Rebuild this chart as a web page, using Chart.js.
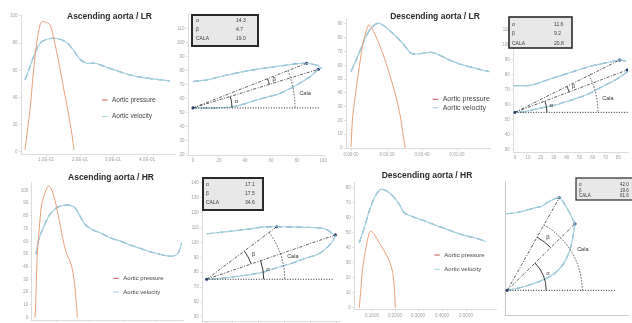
<!DOCTYPE html>
<html>
<head>
<meta charset="utf-8">
<title>Aortic pressure and velocity loops</title>
<script src="https://cdn.jsdelivr.net/npm/chart.js"></script>
<style>
  html, body { margin: 0; padding: 0; background: #fff; }
  body { position: relative; width: 632px; height: 323px; overflow: hidden; }
  canvas { position: absolute; }
</style>
</head>
<body>
<script>
// ---------- Ascending aorta / LR ----------
const ascLR_pT = [4, 9, 12.3, 15.7, 19, 21, 24, 29, 32.3, 37.3, 42.3, 47.3, 50.7, 53];
const ascLR_p = [1.5, 30.9, 58.1, 80.1, 93.4, 95.8, 95.6, 93.4, 84.8, 67.6, 48, 28.7, 14, 1.5];
const ascLR_vT = [4, 9, 14, 19, 25.7, 32.3, 39, 45.7, 52.3, 59, 65.7, 74, 82.3, 95.7, 109, 122.3, 135.7, 149];
const ascLR_v = [52.9, 62.7, 72.6, 79.9, 82.9, 83.6, 82.9, 80.4, 75, 68.2, 65.2, 65.2, 63.2, 59.8, 56.6, 54.6, 53.4, 52.2];
const ascLR_xTicks = [25, 59, 92, 126];
const ascLR_xLabels = ['1.0E-01', '2.0E-01', '3.0E-01', '4.0E-01'];
const ascLR_yTicks = [0, 20, 40, 60, 80, 100];
const ascLR_upX = [0, 10.5, 23, 38.5, 54, 69, 84.6, 95, 99];
const ascLR_upY = [72.4, 73.6, 76.4, 79.5, 81.9, 83.8, 85.5, 84.3, 81.9];
const ascLR_loX = [96.4, 90, 79.8, 66.9, 49, 33.6, 17, 0];
const ascLR_loY = [81.2, 75.9, 70, 64, 59.3, 55, 53.6, 53.6];
const ascLR_keyX = [0, 87.5, 96.4];
const ascLR_keyY = [53.6, 85.5, 81.2];
const ascLR_baseEnd = 97.7;
const ascLR_angles = [14.3, 4.7, 19.0];
const ascLR_loopXTicks = [0, 20, 40, 60, 80, 100];
const ascLR_loopYTicks = [20, 30, 40, 50, 60, 70, 80, 90, 100, 110];

// ---------- Descending aorta / LR ----------
const descLR_pT = [5, 6.7, 10, 13.3, 16.7, 20, 22.7, 25, 30, 36.7, 43.3, 50, 55, 57.3, 59.3];
const descLR_p = [0.9, 22.7, 42, 59, 74.7, 84.4, 89.3, 88, 80.8, 68.7, 54.2, 37.2, 20.3, 8.2, 0];
const descLR_vT = [5, 11.7, 18.3, 25, 31.7, 36.7, 46.7, 56.7, 65, 70, 76.7, 85, 93.3, 103.3, 113.3, 123.3, 133.3, 143.3];
const descLR_v = [55.4, 66.3, 78.4, 86.9, 90.5, 89.3, 83.2, 76, 68.7, 68.2, 68.7, 69.4, 67.5, 63.9, 61, 59, 57.1, 55.4];
const descLR_xTicks = [5, 41, 76, 111];
const descLR_xLabels = ['0:00:00', '0:00:20', '0:00:40', '0:01:00'];
const descLR_yTicks = [0, 10, 20, 30, 40, 50, 60, 70, 80, 90];
const descLR_upX = [-1, 6.2, 13.7, 21.1, 31.1, 41, 51, 61, 70.9, 80.8, 85.8];
const descLR_upY = [72.7, 72.7, 73.2, 75.4, 78.3, 81, 83.9, 86.4, 88.1, 89.9, 89.3];
const descLR_loX = [87, 78.4, 68.4, 56, 43.5, 31.1, 18.7, 7.5, 0];
const descLR_loY = [82.1, 77, 72.5, 66.9, 63.1, 59.7, 57.5, 55.3, 54.8];
const descLR_keyX = [0, 80.8, 86.6];
const descLR_keyY = [54.8, 89.9, 83.2];
const descLR_baseEnd = 87;
const descLR_angles = [11.6, 9.2, 20.8];
const descLR_loopXTicks = [0, 10, 20, 30, 40, 50, 60, 70, 80];
const descLR_loopYTicks = [30, 40, 50, 60, 70, 80, 90, 100, 110];

// ---------- Ascending aorta / HR ----------
const ascHR_pT = [3.3, 4.3, 5, 5.6, 7.6, 10, 13.3, 16.6, 19, 21.6, 25, 28.3, 31.6, 35, 38.3, 41, 43.3, 45, 45.6];
const ascHR_p = [0, 18.4, 36.7, 49.8, 70.6, 89, 98.1, 103.4, 102, 96.9, 86.3, 73.3, 60.2, 49.8, 44.5, 36.7, 23.5, 7.8, 0];
const ascHR_vT = [4.3, 6.6, 11.6, 18.3, 25, 31.6, 38.3, 43.3, 48.3, 53.3, 60, 68.3, 78.3, 88.3, 98.3, 108.3, 118.3, 128.3, 136.6, 141.6, 146.6, 150];
const ascHR_v = [49.8, 60.2, 70.6, 81.2, 86.3, 88.2, 88.2, 86.3, 79.8, 73.3, 69.4, 66.7, 62.8, 60.2, 57.1, 54.5, 51.8, 49.8, 48.4, 48.4, 51, 58.9];
const ascHR_xTicks = [25, 58, 92, 125];
const ascHR_xLabels = ['1.0E-01', '2.0E-01', '3.0E-01', '4.0E-01'];
const ascHR_yTicks = [0, 10, 20, 30, 40, 50, 60, 70, 80, 90, 100];
const ascHR_upX = [0, 15.4, 30.8, 43.5, 53.8, 66.6, 84.1, 91.8, 98.2];
const ascHR_upY = [105.8, 107.2, 108.8, 110.3, 110.5, 110.3, 109.9, 108.8, 105];
const ascHR_loX = [98.9, 96.9, 91.8, 85.4, 76.9, 66.6, 53.8, 41, 25.6, 10.2, 0];
const ascHR_loY = [105, 100.9, 96, 92, 89.7, 86.4, 83, 79.6, 77.5, 75.9, 75.3];
const ascHR_keyX = [0, 53.8, 98.9];
const ascHR_keyY = [75.3, 110.5, 105];
const ascHR_baseEnd = 98;
const ascHR_angles = [17.1, 17.5, 34.6];
const ascHR_loopXTicks = [0, 20, 40, 60, 80, 100];
const ascHR_loopYTicks = [50, 60, 70, 80, 90, 100, 110, 120, 130, 140];

// ---------- Descending aorta / HR ----------
const descHR_pT = [5, 6.7, 8.4, 11.7, 15, 16.7, 20, 25, 30, 35, 38.4, 40, 41];
const descHR_p = [0, 13.3, 26.7, 40, 50, 51.1, 48.9, 43.3, 37.8, 31.1, 23.3, 13.3, 0];
const descHR_vT = [5, 10, 15, 20, 25, 28.4, 33.4, 38.4, 45, 50, 56.7, 68.4, 81.7, 95, 108.4, 121.7, 131.7];
const descHR_v = [43.3, 53.3, 64.5, 73.3, 78.3, 78.9, 77.3, 74.5, 68.9, 63.3, 61.1, 58.3, 54.9, 51.6, 48.5, 46.3, 44];
const descHR_xTicks = [17.7, 40.7, 63.7, 87.7, 111.7];
const descHR_xLabels = ['0.1000', '0.2000', '0.3000', '0.4000', '0.5000'];
const descHR_yTicks = [0, 10, 20, 30, 40, 50, 60, 70, 80];
const descHR_upX = [1.3, 9.2, 17.1, 25, 30.2, 34.1, 39.4, 44.1, 48.6, 52.5, 56.9];
const descHR_upY = [75.6, 76.3, 78.1, 80.1, 81.3, 83.8, 86.3, 87.5, 82.6, 76.3, 68.1];
const descHR_loX = [56.9, 55.1, 52.5, 47.2, 39.4, 27.6, 14.4, 1.8];
const descHR_loY = [68.1, 57.7, 47.8, 37.8, 30.4, 24.9, 20.9, 18.4];
const descHR_keyX = [1.8, 44.1, 56.9];
const descHR_keyY = [18.4, 87.5, 68.1];
const descHR_baseEnd = 90.6;
const descHR_angles = [42.0, 19.6, 61.6];

const angleNames = ['α', 'β', 'CALA'];
const seriesNames = ['Aortic pressure', 'Aortic velocity'];

Chart.defaults.font.family = "'Liberation Sans', Arial, sans-serif";

const PRESS = '#e9a07b', PRESS_KEY = '#c8554b';
const VEL_LIGHT = '#a3d2dc', VEL_DARK = '#4d7fb8';
const AXIS = '#d3d3d3', TICK = '#a0a0a0';
const FONT = "'Liberation Sans', Arial, sans-serif";

const pts = (xs, ys) => xs.map((x, i) => ({x, y: ys[i]}));

function makeCanvas(r) {
    const c = document.createElement('canvas');
    c.width = r[2];
    c.height = r[3];
    c.style.left = r[0] + 'px';
    c.style.top = r[1] + 'px';
    c.style.width = r[2] + 'px';
    c.style.height = r[3] + 'px';
    document.body.appendChild(c);
    return c;
}

function axis(horiz, size, range, ticks, labels, show = true, dotted = false) {
    return {
        type: 'linear', min: range[0], max: range[1],
        afterBuildTicks: s => { s.ticks = ticks.map(v => ({value: v})) },
        afterFit: s => { if (horiz) s.height = size; else s.width = size },
        ticks: {
            display: show, autoSkip: false, maxRotation: 0, padding: 1.5, color: TICK,
            font: {size: 4.5}, callback: (v, i) => labels ? labels[i] : v
        },
        grid: {drawOnChartArea: false, tickLength: 2, color: dotted ? '#c4c4c4' : AXIS, lineWidth: 0.7},
        border: {color: dotted ? '#bdbdbd' : AXIS, width: 0.8, dash: dotted ? [1, 2] : []}
    }
}

// titles, legends, value boxes and angle arcs, all in page coordinates
function decor(cv, d) {
    const ox0 = cv[0], oy0 = cv[1];
    return {
        id: 'decor',
        afterDatasetsDraw(chart) {
            if (!d.arcs) return;
            const ctx = chart.ctx, xs = chart.scales.x, ys = chart.scales.y, a = d.arcs;
            const px = i => xs.getPixelForValue(a.keyX[i]), py = i => ys.getPixelForValue(a.keyY[i]);
            const ox = px(0), oy = py(0);
            const ang = i => Math.atan2(oy - py(i), px(i) - ox);
            const hi = ang(1), lo = ang(2);
            const arc = (r, a1, a2, dash) => {
                ctx.setLineDash(dash);
                ctx.beginPath();
                ctx.arc(ox, oy, r, -a2, -a1);
                ctx.stroke();
            };
            const label = (t, r, an, size) => {
                ctx.font = size + 'px ' + FONT;
                ctx.fillText(t, ox + r * Math.cos(an), oy - r * Math.sin(an));
            };
            ctx.save();
            ctx.strokeStyle = '#222';
            ctx.fillStyle = '#333';
            ctx.lineWidth = 0.9;
            ctx.textAlign = 'center';
            ctx.textBaseline = 'middle';
            arc(a.radii[0], 0, lo, []);
            arc(a.radii[1], lo, hi, []);
            ctx.strokeStyle = '#444';
            arc(a.radii[2], 0, hi, [1.5, 1.5]);
            label('α', a.radii[0] + 5, lo / 2, 6);
            label('β', a.radii[1] + 6, (lo + hi) / 2, 6);
            label('Cala', a.radii[2] + 11, hi * a.calaFrac, 5.5);
            ctx.restore();
        },
        afterDraw(chart) {
            const ctx = chart.ctx;
            ctx.save();
            ctx.textBaseline = 'middle';
            if (d.title) {
                ctx.font = 'bold 8.5px ' + FONT;
                ctx.fillStyle = '#2b2b2b';
                ctx.textAlign = 'center';
                ctx.fillText(d.title.text, d.title.x - ox0, d.title.y - oy0);
            }
            if (d.legend) {
                const L = d.legend;
                ctx.font = L.size + 'px ' + FONT;
                ctx.textAlign = 'left';
                [PRESS_KEY, VEL_LIGHT].forEach((col, i) => {
                    const y = L.y + i * L.dy - oy0;
                    ctx.strokeStyle = col;
                    ctx.lineWidth = 1;
                    ctx.beginPath();
                    ctx.moveTo(L.x - ox0, y);
                    ctx.lineTo(L.x + 5.5 - ox0, y);
                    ctx.stroke();
                    ctx.fillStyle = '#454545';
                    ctx.fillText(seriesNames[i], L.x + 10 - ox0, y);
                });
            }
            if (d.box) {
                const B = d.box;
                ctx.fillStyle = '#e8e8e8';
                ctx.fillRect(B.x - ox0, B.y - oy0, B.w, B.h);
                ctx.strokeStyle = '#2a2a2a';
                ctx.lineWidth = B.bw;
                ctx.strokeRect(B.x - ox0, B.y - oy0, B.w, B.h);
                ctx.font = B.size + 'px ' + FONT;
                ctx.fillStyle = '#3a3a3a';
                ctx.textAlign = 'left';
                B.rows.forEach((ry, i) => {
                    ctx.fillText(angleNames[i], B.lx - ox0, ry - oy0);
                    ctx.fillText(B.values[i].toFixed(1), B.vx - ox0, ry - oy0);
                });
            }
            ctx.restore();
        }
    }
}

function baseOptions(cv, plot, scales) {
    return {
        responsive: false, animation: false, events: [],
        layout: {padding: {left: 0, top: plot[1] - cv[1], right: cv[0] + cv[2] - plot[2], bottom: 0}},
        plugins: {legend: {display: false}, tooltip: {enabled: false}},
        scales
    }
}

function lineChart(o) {
    const cv = o.canvas, plot = o.plot;
    new Chart(makeCanvas(cv), {
        type: 'line',
        data: {
            datasets: [
                {data: pts(o.pT, o.p), borderColor: PRESS, borderWidth: 1, pointRadius: 0, tension: 0.3},
                {data: pts(o.vT, o.v), borderColor: VEL_LIGHT, borderWidth: 1.2, pointRadius: 0, tension: 0.3},
                {data: pts(o.vT, o.v), borderColor: VEL_DARK, borderWidth: 1.1, borderDash: [6, 4], pointRadius: 0, tension: 0.3}
            ]
        },
        options: baseOptions(cv, plot, {
            x: axis(true, cv[1] + cv[3] - plot[3], o.xr, o.xTicks, o.xLabels),
            y: axis(false, plot[0] - cv[0], o.yr, o.yTicks, null)
        }),
        plugins: [decor(cv, o.deco)]
    })
}

function loopChart(o) {
    const cv = o.canvas, plot = o.plot, kx = o.keyX, ky = o.keyY;
    const ds = (data, color, width, dash, tension) =>
        ({data, borderColor: color, borderWidth: width, borderDash: dash, pointRadius: 0, tension});
    new Chart(makeCanvas(cv), {
        type: 'line',
        data: {
            datasets: [
                ds(pts([kx[0], o.baseEnd], [ky[0], ky[0]]), '#222', 1, [1, 1.6], 0),
                ds(pts([kx[0], kx[1]], [ky[0], ky[1]]), '#333', 0.8, [3, 1.5, 1, 1.5], 0),
                ds(pts([kx[0], kx[2]], [ky[0], ky[2]]), '#333', 0.8, [3, 1.5, 1, 1.5], 0),
                ds(pts(o.upX, o.upY), VEL_LIGHT, 1.2, [], 0.3),
                ds(pts(o.upX, o.upY), VEL_DARK, 1.1, [6, 4], 0.3),
                ds(pts(o.loX, o.loY), VEL_LIGHT, 1.2, [], 0.3),
                ds(pts(o.loX, o.loY), VEL_DARK, 1.1, [6, 4], 0.3),
                {data: pts(kx, ky), showLine: false, pointRadius: 1.6, pointBorderWidth: 0, pointBackgroundColor: '#1f3a78'}
            ]
        },
        options: baseOptions(cv, plot, {
            x: axis(true, cv[1] + cv[3] - plot[3], o.xr, o.xTicks, null, o.showTicks, o.dotted),
            y: axis(false, plot[0] - cv[0], o.yr, o.yTicks, null, o.showTicks, o.dotted)
        }),
        plugins: [decor(cv, o.deco)]
    })
}

// ---------- top row ----------
lineChart({
    canvas: [0, 0, 180, 165], plot: [21, 15, 175, 154], xr: [0, 154], yr: [-1.5, 100.7],
    xTicks: ascLR_xTicks, xLabels: ascLR_xLabels, yTicks: ascLR_yTicks,
    pT: ascLR_pT, p: ascLR_p, vT: ascLR_vT, v: ascLR_v,
    deco: {title: {text: 'Ascending aorta / LR', x: 109.5, y: 17}, legend: {x: 102, y: 100, dy: 16.5, size: 6.5}}
});
loopChart({
    canvas: [172, 0, 160, 165], plot: [188, 13, 325.8, 155], xr: [-3.85, 102.2], yr: [20, 121.4],
    xTicks: ascLR_loopXTicks, yTicks: ascLR_loopYTicks, showTicks: true,
    upX: ascLR_upX, upY: ascLR_upY, loX: ascLR_loX, loY: ascLR_loY,
    keyX: ascLR_keyX, keyY: ascLR_keyY, baseEnd: ascLR_baseEnd,
    deco: {
        box: {x: 192, y: 15, w: 66, h: 31, rows: [21, 30, 39], lx: 196, vx: 236, size: 5, bw: 2, values: ascLR_angles},
        arcs: {keyX: ascLR_keyX, keyY: ascLR_keyY, radii: [39, 80, 102], calaFrac: 0.35}
    }
});
lineChart({
    canvas: [330, 0, 165, 165], plot: [346, 18, 490, 148.5], xr: [0, 144], yr: [-0.36, 94.3],
    xTicks: descLR_xTicks, xLabels: descLR_xLabels, yTicks: descLR_yTicks,
    pT: descLR_pT, p: descLR_p, vT: descLR_vT, v: descLR_v,
    deco: {title: {text: 'Descending aorta / LR', x: 435, y: 16.7}, legend: {x: 432.7, y: 99.3, dy: 8.4, size: 7}}
});
loopChart({
    canvas: [497, 0, 135, 165], plot: [513.3, 18, 632, 152], xr: [-1.27, 87.3], yr: [28.2, 118.1],
    xTicks: descLR_loopXTicks, yTicks: descLR_loopYTicks, showTicks: true,
    upX: descLR_upX, upY: descLR_upY, loX: descLR_loX, loY: descLR_loY,
    keyX: descLR_keyX, keyY: descLR_keyY, baseEnd: descLR_baseEnd,
    deco: {
        box: {x: 509, y: 17, w: 63, h: 31, rows: [24.7, 34, 43.7], lx: 512, vx: 554, size: 5, bw: 1.6, values: descLR_angles},
        arcs: {keyX: descLR_keyX, keyY: descLR_keyY, radii: [32, 58, 83], calaFrac: 0.33}
    }
});

// ---------- bottom row ----------
lineChart({
    canvas: [0, 161, 186, 180], plot: [31.7, 182.7, 183, 320], xr: [0, 151.3], yr: [-1.8, 106],
    xTicks: ascHR_xTicks, xLabels: ascHR_xLabels, yTicks: ascHR_yTicks,
    pT: ascHR_pT, p: ascHR_p, vT: ascHR_vT, v: ascHR_v,
    deco: {title: {text: 'Ascending aorta / HR', x: 111, y: 177.7}, legend: {x: 113.3, y: 278.3, dy: 13.7, size: 6}}
});
loopChart({
    canvas: [186, 161, 160, 180], plot: [202.3, 181, 340, 321], xr: [-3.4, 102.5], yr: [47.3, 141.2],
    xTicks: ascHR_loopXTicks, yTicks: ascHR_loopYTicks, showTicks: true,
    upX: ascHR_upX, upY: ascHR_upY, loX: ascHR_loX, loY: ascHR_loY,
    keyX: ascHR_keyX, keyY: ascHR_keyY, baseEnd: ascHR_baseEnd,
    deco: {
        box: {x: 203, y: 178, w: 60, h: 32, rows: [185, 193.7, 202.7], lx: 206, vx: 245, size: 5, bw: 2, values: ascHR_angles},
        arcs: {keyX: ascHR_keyX, keyY: ascHR_keyY, radii: [57, 47, 78], calaFrac: 0.4}
    }
});
lineChart({
    canvas: [340, 161, 160, 170], plot: [354.3, 182.7, 496, 309.3], xr: [0, 141.7], yr: [-1.07, 83.3],
    xTicks: descHR_xTicks, xLabels: descHR_xLabels, yTicks: descHR_yTicks,
    pT: descHR_pT, p: descHR_p, vT: descHR_vT, v: descHR_v,
    deco: {title: {text: 'Descending aorta / HR', x: 427, y: 176}, legend: {x: 434.3, y: 255, dy: 14.3, size: 6}}
});
loopChart({
    canvas: [498, 161, 134, 170], plot: [505, 181, 632, 315], xr: [0, 100], yr: [0, 100],
    xTicks: [], yTicks: [], showTicks: false, dotted: true,
    upX: descHR_upX, upY: descHR_upY, loX: descHR_loX, loY: descHR_loY,
    keyX: descHR_keyX, keyY: descHR_keyY, baseEnd: descHR_baseEnd,
    deco: {
        box: {x: 576, y: 178, w: 58, h: 22, rows: [184.5, 190.5, 196], lx: 579, vx: 620, size: 4.5, bw: 1.2, values: descHR_angles},
        arcs: {keyX: descHR_keyX, keyY: descHR_keyY, radii: [39, 61, 75], calaFrac: 0.47}
    }
});
</script>
</body>
</html>
